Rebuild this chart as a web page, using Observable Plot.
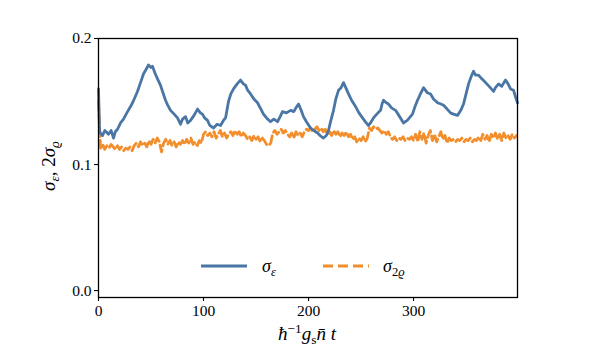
<!DOCTYPE html>
<html>
<head>
<meta charset="utf-8">
<script src="https://cdn.jsdelivr.net/npm/d3@7"></script>
<script src="https://cdn.jsdelivr.net/npm/@observablehq/plot@0.6"></script>
<style>
  body { margin: 0; background: #fff; }
  #wrap { position: relative; width: 616px; height: 361px; color: #000; }
  .lab { position: absolute; white-space: nowrap; font-size: 19px; line-height: 1; }
  .lab sub { font-size: 0.7em; vertical-align: -0.3em; }
  .lab sup { font-size: 0.7em; vertical-align: 0.55em; }
  .leg { position: absolute; white-space: nowrap; font-size: 18px; line-height: 1; }
  .leg sub { font-size: 0.7em; vertical-align: -0.35em; }
</style>
</head>
<body>
<div id="wrap"></div>
<script>
// sigma_epsilon (solid blue)
const blueT = [0, 1, 3.8, 6, 9.5, 12, 14.3, 16, 18.1, 21, 23.8, 27, 30.5, 33, 37.1, 40, 42.9, 45, 47.6, 50, 51.4, 54, 56.2, 59, 61, 63.8, 66, 68.6, 72, 75.2, 78.1, 80, 82.9, 85, 87.6, 91, 94.3, 97, 99, 101, 103.8, 106, 109.5, 113, 116.2, 119, 121, 123.8, 126, 128.6, 132, 135.2, 138, 140, 142, 144.8, 148, 151.4, 154, 157.1, 160, 163.8, 167, 170.5, 173, 175.2, 179, 182.9, 186, 188, 190.5, 193, 195.2, 198, 201.9, 205, 208.6, 211, 214.3, 217, 219, 221, 223.8, 226, 228.6, 231, 233.3, 236, 238.1, 241, 244.8, 248, 251.4, 254, 257.1, 259, 261.9, 265, 268.6, 270, 271.4, 274, 276.2, 279, 282.9, 286, 290.5, 294, 299, 301, 303.8, 306, 309.5, 313, 316.2, 319, 322.9, 326, 328.6, 332, 335.2, 338, 341.9, 345, 347.6, 350, 352.4, 355, 357.1, 359, 361.9, 365, 368.6, 372, 376.2, 378, 381, 384, 387.6, 390, 392.4, 395.2, 397, 399];
const blueV = [0.160, 0.126, 0.123, 0.127, 0.124, 0.127, 0.121, 0.126, 0.128, 0.133, 0.136, 0.141, 0.146, 0.150, 0.158, 0.165, 0.172, 0.175, 0.179, 0.177, 0.178, 0.172, 0.168, 0.163, 0.158, 0.151, 0.147, 0.143, 0.140, 0.137, 0.132, 0.136, 0.138, 0.133, 0.135, 0.139, 0.144, 0.141, 0.140, 0.137, 0.135, 0.131, 0.129, 0.132, 0.131, 0.135, 0.137, 0.150, 0.156, 0.160, 0.164, 0.167, 0.164, 0.163, 0.159, 0.156, 0.152, 0.149, 0.145, 0.140, 0.137, 0.134, 0.136, 0.134, 0.138, 0.142, 0.141, 0.143, 0.142, 0.145, 0.148, 0.143, 0.138, 0.134, 0.129, 0.127, 0.125, 0.123, 0.121, 0.123, 0.127, 0.134, 0.143, 0.152, 0.159, 0.161, 0.165, 0.160, 0.156, 0.151, 0.146, 0.141, 0.137, 0.134, 0.131, 0.133, 0.137, 0.140, 0.143, 0.148, 0.151, 0.149, 0.148, 0.145, 0.143, 0.139, 0.133, 0.135, 0.140, 0.145, 0.151, 0.155, 0.161, 0.157, 0.156, 0.152, 0.149, 0.148, 0.147, 0.144, 0.141, 0.140, 0.139, 0.143, 0.148, 0.156, 0.164, 0.170, 0.174, 0.171, 0.171, 0.168, 0.165, 0.162, 0.158, 0.161, 0.164, 0.162, 0.167, 0.164, 0.160, 0.159, 0.154, 0.149];

// sigma_{2 rho} (dashed orange), sampled every 2 time units from 0 to 398
const orangeT = d3.range(0, 400, 2);
const orangeV = [
  0.150, 0.113, 0.116, 0.112, 0.115, 0.113, 0.116, 0.114, 0.112, 0.115,
  0.112, 0.114, 0.111, 0.113, 0.112, 0.114, 0.111, 0.115, 0.117, 0.114,
  0.118, 0.115, 0.117, 0.114, 0.119, 0.116, 0.120, 0.117, 0.121, 0.118,
  0.110, 0.117, 0.120, 0.116, 0.119, 0.115, 0.118, 0.114, 0.118, 0.116,
  0.119, 0.116, 0.120, 0.117, 0.121, 0.116, 0.118, 0.115, 0.119, 0.117,
  0.124, 0.126, 0.123, 0.125, 0.122, 0.126, 0.121, 0.124, 0.127, 0.122,
  0.125, 0.121, 0.124, 0.126, 0.123, 0.127, 0.124, 0.126, 0.122, 0.125,
  0.123, 0.120, 0.122, 0.119, 0.123, 0.120, 0.122, 0.118, 0.121, 0.119,
  0.116, 0.115, 0.117, 0.125, 0.127, 0.124, 0.126, 0.128, 0.125, 0.127,
  0.124, 0.122, 0.125, 0.121, 0.126, 0.123, 0.125, 0.122, 0.126, 0.128,
  0.127, 0.129, 0.126, 0.128, 0.130, 0.127, 0.129, 0.126, 0.128, 0.124,
  0.126, 0.123, 0.127, 0.124, 0.126, 0.122, 0.125, 0.123, 0.126, 0.122,
  0.124, 0.120, 0.122, 0.118, 0.121, 0.119, 0.122, 0.118, 0.121, 0.129,
  0.127, 0.130, 0.128, 0.129, 0.127, 0.125, 0.127, 0.124, 0.126, 0.122,
  0.120, 0.122, 0.119, 0.121, 0.120, 0.122, 0.119, 0.121, 0.120, 0.122,
  0.119, 0.124, 0.118, 0.126, 0.120, 0.125, 0.117, 0.123, 0.127, 0.119,
  0.124, 0.118, 0.122, 0.126, 0.120, 0.123, 0.117, 0.121, 0.119, 0.120,
  0.118, 0.120, 0.119, 0.121, 0.118, 0.120, 0.119, 0.121, 0.118, 0.120,
  0.119, 0.122, 0.119, 0.124, 0.120, 0.123, 0.118, 0.124, 0.121, 0.125,
  0.120, 0.124, 0.119, 0.125, 0.121, 0.123, 0.120, 0.124, 0.121, 0.123
];

const xTicks = [0, 100, 200, 300];
const yTicks = [0.0, 0.1, 0.2];

const blueColor = "#4a76a6";
const orangeColor = "#f28e2b";
const SERIF = "'Liberation Serif', 'Times New Roman', Tinos, serif";

const blue = blueT.map((t, i) => ({t, v: blueV[i]}));
const orange = orangeT.map((t, i) => ({t, v: orangeV[i]}));

const chart = Plot.plot({
  width: 616,
  height: 361,
  marginLeft: 98,
  marginRight: 99,
  marginTop: 38,
  marginBottom: 64,
  style: {background: "#fff", color: "#000"},
  x: {domain: [0, 399], label: null},
  y: {domain: [-0.0055, 0.2], label: null},
  marks: [
    Plot.line(orange, {x: "t", y: "v", stroke: orangeColor, strokeWidth: 2.8, strokeDasharray: "9,4", curve: "linear"}),
    Plot.line(blue, {x: "t", y: "v", stroke: blueColor, strokeWidth: 2.8, curve: "linear"}),
    Plot.frame({stroke: "#000", strokeWidth: 1.3}),
    Plot.axisX({ticks: xTicks, tickFormat: d => String(d), tickSize: 4, tickPadding: 3, label: null, stroke: "#000", strokeWidth: 1.1, fontSize: 15.5}),
    Plot.axisY({ticks: yTicks, tickFormat: d3.format(".1f"), tickSize: 4, tickPadding: 3, label: null, stroke: "#000", strokeWidth: 1.1, fontSize: 15.5})
  ]
});

const wrap = document.getElementById("wrap");
wrap.appendChild(chart);
chart.style.setProperty("font-family", SERIF, "important");
chart.querySelectorAll("g, text").forEach(el => {
  el.style.setProperty("font-family", SERIF, "important");
  el.setAttribute("font-family", "Liberation Serif");
});
wrap.style.setProperty("font-family", SERIF, "important");

function setSerif(el) {
  el.style.setProperty("font-family", SERIF, "important");
  el.querySelectorAll("*").forEach(c => c.style.setProperty("font-family", SERIF, "important"));
}

// Axis labels
const yl = document.createElement("div");
yl.className = "lab";
yl.innerHTML = "<i>σ</i><sub><i>ε</i></sub>, 2<i>σ</i><sub><i>ϱ</i></sub>";
yl.style.left = "50px";
yl.style.top = "166px";
yl.style.transform = "translate(-50%, -50%) rotate(-90deg)";
wrap.appendChild(yl);
setSerif(yl);

const xl = document.createElement("div");
xl.className = "lab";
xl.innerHTML = "<i>ħ</i><sup>−1</sup><i>g</i><sub>s</sub><i>n̄</i> <i>t</i>";
xl.style.left = "307px";
xl.style.top = "334px";
xl.style.transform = "translate(-50%, -50%)";
wrap.appendChild(xl);
setSerif(xl);

// Legend
function legItem(left, color, dash, html, textLeft) {
  const s = document.createElementNS("http://www.w3.org/2000/svg", "svg");
  s.setAttribute("width", 46);
  s.setAttribute("height", 6);
  s.style.position = "absolute";
  s.style.left = left + "px";
  s.style.top = "263px";
  const l = document.createElementNS("http://www.w3.org/2000/svg", "line");
  l.setAttribute("x1", 0); l.setAttribute("x2", 46);
  l.setAttribute("y1", 3); l.setAttribute("y2", 3);
  l.setAttribute("stroke", color); l.setAttribute("stroke-width", 2.8);
  if (dash) l.setAttribute("stroke-dasharray", dash);
  s.appendChild(l);
  wrap.appendChild(s);
  const t = document.createElement("div");
  t.className = "leg";
  t.innerHTML = html;
  t.style.left = textLeft + "px";
  t.style.top = "257px";
  wrap.appendChild(t);
  setSerif(t);
}
legItem(201, blueColor, null, "<i>σ</i><sub><i>ε</i></sub>", 262);
legItem(323, orangeColor, "10,5", "<i>σ</i><sub>2<i>ϱ</i></sub>", 383);
</script>
</body>
</html>
